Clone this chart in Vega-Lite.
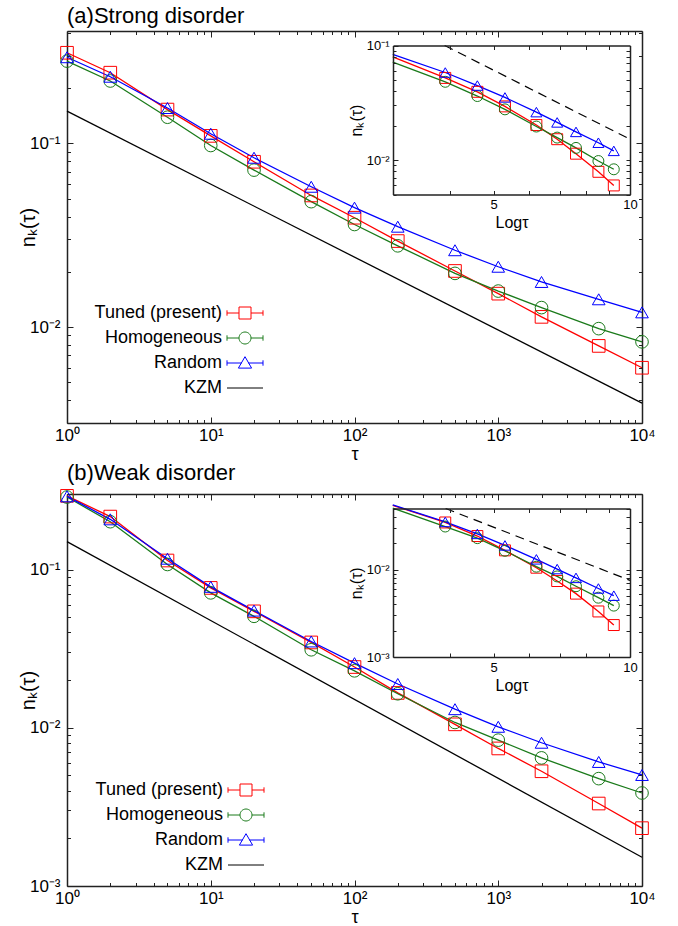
{
"$schema": "https://vega.github.io/schema/vega-lite/v6.json",
"background": "white",
"padding": {"left": 18, "top": 4, "right": 5, "bottom": 0},
"spacing": -2,
"datasets": {
"a": [
{"series":"Tuned (present)","tau":1,"lntau":0,"n":0.312},{"series":"Tuned (present)","tau":2,"lntau":0.693,"n":0.243},{"series":"Tuned (present)","tau":5,"lntau":1.609,"n":0.153},{"series":"Tuned (present)","tau":10,"lntau":2.303,"n":0.110},{"series":"Tuned (present)","tau":20,"lntau":2.996,"n":0.0795},{"series":"Tuned (present)","tau":50,"lntau":3.912,"n":0.0521},{"series":"Tuned (present)","tau":100,"lntau":4.605,"n":0.0394},{"series":"Tuned (present)","tau":200,"lntau":5.298,"n":0.0294},{"series":"Tuned (present)","tau":500,"lntau":6.215,"n":0.0202},{"series":"Tuned (present)","tau":1000,"lntau":6.908,"n":0.0152},{"series":"Tuned (present)","tau":2000,"lntau":7.601,"n":0.01136},{"series":"Tuned (present)","tau":5000,"lntau":8.517,"n":0.00789},{"series":"Tuned (present)","tau":10000,"lntau":9.21,"n":0.0060},
{"series":"Homogeneous","tau":1,"lntau":0,"n":0.281},{"series":"Homogeneous","tau":2,"lntau":0.693,"n":0.219},{"series":"Homogeneous","tau":5,"lntau":1.609,"n":0.139},{"series":"Homogeneous","tau":10,"lntau":2.303,"n":0.0975},{"series":"Homogeneous","tau":20,"lntau":2.996,"n":0.0716},{"series":"Homogeneous","tau":50,"lntau":3.912,"n":0.0482},{"series":"Homogeneous","tau":100,"lntau":4.605,"n":0.0362},{"series":"Homogeneous","tau":200,"lntau":5.298,"n":0.0277},{"series":"Homogeneous","tau":500,"lntau":6.215,"n":0.0196},{"series":"Homogeneous","tau":1000,"lntau":6.908,"n":0.0157},{"series":"Homogeneous","tau":2000,"lntau":7.601,"n":0.01276},{"series":"Homogeneous","tau":5000,"lntau":8.517,"n":0.0098},{"series":"Homogeneous","tau":10000,"lntau":9.21,"n":0.0083},
{"series":"Random","tau":1,"lntau":0,"n":0.295},{"series":"Random","tau":2,"lntau":0.693,"n":0.231},{"series":"Random","tau":5,"lntau":1.609,"n":0.156},{"series":"Random","tau":10,"lntau":2.303,"n":0.113},{"series":"Random","tau":20,"lntau":2.996,"n":0.0836},{"series":"Random","tau":50,"lntau":3.912,"n":0.0581},{"series":"Random","tau":100,"lntau":4.605,"n":0.0447},{"series":"Random","tau":200,"lntau":5.298,"n":0.0352},{"series":"Random","tau":500,"lntau":6.215,"n":0.0262},{"series":"Random","tau":1000,"lntau":6.908,"n":0.0213},{"series":"Random","tau":2000,"lntau":7.601,"n":0.0176},{"series":"Random","tau":5000,"lntau":8.517,"n":0.01416},{"series":"Random","tau":10000,"lntau":9.21,"n":0.01202}
],
"b": [
{"series":"Tuned (present)","tau":1,"lntau":0,"n":0.292},{"series":"Tuned (present)","tau":2,"lntau":0.693,"n":0.216},{"series":"Tuned (present)","tau":5,"lntau":1.609,"n":0.114},{"series":"Tuned (present)","tau":10,"lntau":2.303,"n":0.0765},{"series":"Tuned (present)","tau":20,"lntau":2.996,"n":0.0544},{"series":"Tuned (present)","tau":50,"lntau":3.912,"n":0.0346},{"series":"Tuned (present)","tau":100,"lntau":4.605,"n":0.0242},{"series":"Tuned (present)","tau":200,"lntau":5.298,"n":0.0166},{"series":"Tuned (present)","tau":500,"lntau":6.215,"n":0.01051},{"series":"Tuned (present)","tau":1000,"lntau":6.908,"n":0.0074},{"series":"Tuned (present)","tau":2000,"lntau":7.601,"n":0.00531},{"series":"Tuned (present)","tau":5000,"lntau":8.517,"n":0.00332},{"series":"Tuned (present)","tau":10000,"lntau":9.21,"n":0.00232},
{"series":"Homogeneous","tau":1,"lntau":0,"n":0.287},{"series":"Homogeneous","tau":2,"lntau":0.693,"n":0.2005},{"series":"Homogeneous","tau":5,"lntau":1.609,"n":0.1076},{"series":"Homogeneous","tau":10,"lntau":2.303,"n":0.0712},{"series":"Homogeneous","tau":20,"lntau":2.996,"n":0.0506},{"series":"Homogeneous","tau":50,"lntau":3.912,"n":0.0311},{"series":"Homogeneous","tau":100,"lntau":4.605,"n":0.0229},{"series":"Homogeneous","tau":200,"lntau":5.298,"n":0.0164},{"series":"Homogeneous","tau":500,"lntau":6.215,"n":0.0108},{"series":"Homogeneous","tau":1000,"lntau":6.908,"n":0.00835},{"series":"Homogeneous","tau":2000,"lntau":7.601,"n":0.00645},{"series":"Homogeneous","tau":5000,"lntau":8.517,"n":0.00477},{"series":"Homogeneous","tau":10000,"lntau":9.21,"n":0.00387},
{"series":"Random","tau":1,"lntau":0,"n":0.290},{"series":"Random","tau":2,"lntau":0.693,"n":0.2075},{"series":"Random","tau":5,"lntau":1.609,"n":0.117},{"series":"Random","tau":10,"lntau":2.303,"n":0.0777},{"series":"Random","tau":20,"lntau":2.996,"n":0.055},{"series":"Random","tau":50,"lntau":3.912,"n":0.0351},{"series":"Random","tau":100,"lntau":4.605,"n":0.0256},{"series":"Random","tau":200,"lntau":5.298,"n":0.0189},{"series":"Random","tau":500,"lntau":6.215,"n":0.0131},{"series":"Random","tau":1000,"lntau":6.908,"n":0.01014},{"series":"Random","tau":2000,"lntau":7.601,"n":0.00804},{"series":"Random","tau":5000,"lntau":8.517,"n":0.00608},{"series":"Random","tau":10000,"lntau":9.21,"n":0.00503}
],
"kzm_a": [{"tau":1,"n":0.15},{"tau":10000,"n":0.00385}],
"kzm_b": [{"tau":1,"n":0.15},{"tau":10000,"n":0.00152}],
"dash_a": [{"x":3.9,"n":0.1},{"x":10,"n":0.0152}],
"dash_b": [{"x":3.92,"n":0.05},{"x":10,"n":0.00753}]
},
"vconcat": [
{
"title": {"text": "(a)Strong disorder", "anchor": "start", "frame": "group", "fontSize": 22, "offset": 3},
"width": 575, "height": 392,
"resolve": {"scale": {"x": "independent", "y": "independent", "color": "independent", "shape": "independent"}, "axis": {"x": "independent", "y": "independent"}},
"layer": [
{"data": {"name": "kzm_a"}, "mark": {"type": "line", "color": "black", "strokeWidth": 1.3},
 "encoding": {
  "x": {"field": "tau", "type": "quantitative", "scale": {"type": "log", "domain": [1, 10000], "nice": false},
        "axis": {"orient": "bottom", "values": [1, 10, 100, 1000, 10000], "labelExpr": "'10' + ['⁰','¹','²','³','⁴'][round(log(datum.value)/LN10)]", "tickSize": -6, "labelPadding": 10, "labelFontSize": 17, "domainWidth": 1.5, "title": "τ", "titleFontSize": 18, "titlePadding": 2}},
  "y": {"field": "n", "type": "quantitative", "scale": {"type": "log", "domain": [0.003, 0.41], "nice": false},
        "axis": {"orient": "left", "values": [0.01, 0.1], "labelExpr": "'10' + ['⁻³','⁻²','⁻¹'][round(log(datum.value)/LN10)+3]", "tickSize": -6, "labelPadding": 13, "labelFontSize": 17, "domainWidth": 1.5, "title": "nₖ(τ)", "titleFontSize": 20, "titlePadding": -9}}
 }},
{"data": {"name": "a"}, "mark": {"type": "line", "strokeWidth": 1.3},
 "encoding": {
  "x": {"field": "tau", "type": "quantitative", "scale": {"type": "log", "domain": [1, 10000], "nice": false},
        "axis": {"orient": "bottom", "values": [2,3,4,5,6,7,8,9,20,30,40,50,60,70,80,90,200,300,400,500,600,700,800,900,2000,3000,4000,5000,6000,7000,8000,9000], "tickSize": -3.5, "labels": false, "domain": false, "title": null}},
  "y": {"field": "n", "type": "quantitative", "scale": {"type": "log", "domain": [0.003, 0.41], "nice": false},
        "axis": {"orient": "left", "values": [0.003,0.004,0.005,0.006,0.007,0.008,0.009,0.02,0.03,0.04,0.05,0.06,0.07,0.08,0.09,0.2,0.3,0.4], "tickSize": -3.5, "labels": false, "domain": false, "title": null}},
  "color": {"field": "series", "type": "nominal", "scale": {"domain": ["Tuned (present)", "Homogeneous", "Random"], "range": ["#ff0000", "#1a7a1a", "#0000ff"]}, "legend": null}
 }},
{"data": {"name": "a"}, "mark": {"type": "point", "filled": false, "size": 160, "strokeWidth": 1, "opacity": 1},
 "encoding": {
  "x": {"field": "tau", "type": "quantitative", "scale": {"type": "log", "domain": [1, 10000], "nice": false},
        "axis": {"orient": "top", "values": [1, 10, 100, 1000, 10000], "tickSize": -6, "labels": false, "domainWidth": 1.5, "title": null}},
  "y": {"field": "n", "type": "quantitative", "scale": {"type": "log", "domain": [0.003, 0.41], "nice": false},
        "axis": {"orient": "right", "values": [0.01, 0.1], "tickSize": -6, "labels": false, "domainWidth": 1.5, "title": null}},
  "color": {"field": "series", "type": "nominal", "scale": {"domain": ["Tuned (present)", "Homogeneous", "Random"], "range": ["#ff0000", "#1a7a1a", "#0000ff"]}, "legend": null},
  "shape": {"field": "series", "type": "nominal", "scale": {"domain": ["Tuned (present)", "Homogeneous", "Random"], "range": ["square", "circle", "triangle-up"]}, "legend": null}
 }},
{"data": {"name": "a"}, "mark": {"type": "point", "filled": false, "opacity": 0},
 "encoding": {
  "x": {"field": "tau", "type": "quantitative", "scale": {"type": "log", "domain": [1, 10000], "nice": false},
        "axis": {"orient": "top", "values": [2,3,4,5,6,7,8,9,20,30,40,50,60,70,80,90,200,300,400,500,600,700,800,900,2000,3000,4000,5000,6000,7000,8000,9000], "tickSize": -3.5, "labels": false, "domain": false, "title": null}},
  "y": {"field": "n", "type": "quantitative", "scale": {"type": "log", "domain": [0.003, 0.41], "nice": false},
        "axis": {"orient": "right", "values": [0.003,0.004,0.005,0.006,0.007,0.008,0.009,0.02,0.03,0.04,0.05,0.06,0.07,0.08,0.09,0.2,0.3,0.4], "tickSize": -3.5, "labels": false, "domain": false, "title": null}},
  "color": {"field": "series", "type": "nominal", "scale": {"domain": ["Tuned (present)", "Homogeneous", "Random", "KZM"], "range": ["#ff0000", "#1a7a1a", "#0000ff", "#000000"]},
            "legend": {"orient": "none", "legendX": 169, "legendY": 273, "title": null, "labelFontSize": 18, "labelAlign": "right", "labelOffset": -32, "symbolSize": 144, "symbolStrokeWidth": 1, "symbolOpacity": 1, "rowPadding": 7, "labelLimit": 300, "labelColor": "black"}},
  "shape": {"field": "series", "type": "nominal", "scale": {"domain": ["Tuned (present)", "Homogeneous", "Random", "KZM"], "range": ["M-1,-1H1V1H-1Z M-3,0H-1 M1,0H3 M-3,-0.45V0.45 M3,-0.45V0.45", "M-1,0A1,1,0,1,0,1,0A1,1,0,1,0,-1,0Z M-3,0H-1 M1,0H3 M-3,-0.45V0.45 M3,-0.45V0.45", "M0,-1.05L1.1,0.85H-1.1Z M-3,0H-0.55 M0.55,0H3 M-3,-0.45V0.45 M3,-0.45V0.45", "M-3,0H3"]},
            "legend": {"orient": "none", "legendX": 169, "legendY": 273, "title": null, "labelFontSize": 18, "labelAlign": "right", "labelOffset": -32, "symbolSize": 144, "symbolStrokeWidth": 1, "symbolOpacity": 1, "rowPadding": 7, "labelLimit": 300, "labelColor": "black"}}
 }},
{"data": {"name": "dash_a"}, "mark": {"type": "line", "color": "black", "strokeWidth": 1.2, "strokeDash": [9, 6]},
 "encoding": {
  "x": {"field": "x", "type": "quantitative", "scale": {"type": "log", "domain": [3, 10], "range": [326, 563], "nice": false},
        "axis": {"orient": "bottom", "offset": -228.5, "values": [4,5,6,7,8,9,10], "labelExpr": "datum.value == 5 || datum.value == 10 ? format(datum.value, 'd') : ''", "tickSize": -4, "labelPadding": 8, "labelFontSize": 13, "domainWidth": 1.5, "title": "Logτ", "titleFontSize": 16, "titlePadding": 3, "zindex": 1}},
  "y": {"field": "n", "type": "quantitative", "scale": {"type": "log", "domain": [0.005, 0.1], "range": [163.5, 14.5], "nice": false},
        "axis": {"orient": "left", "offset": -326, "values": [0.01, 0.1], "labelExpr": "'10' + ['⁻³','⁻²','⁻¹'][round(log(datum.value)/LN10)+3]", "tickSize": -5, "labelPadding": 9, "labelFontSize": 13, "domainWidth": 1.5, "title": "nₖ(τ)", "titleFontSize": 16, "titlePadding": 2, "zindex": 1}}
 }},
{"data": {"name": "a"}, "transform": [{"filter": "datum.tau >= 20"}], "mark": {"type": "line", "strokeWidth": 1.3, "clip": true},
 "encoding": {
  "x": {"field": "lntau", "type": "quantitative", "scale": {"type": "log", "domain": [3, 10], "range": [326, 563], "nice": false},
        "axis": {"orient": "top", "offset": -14.5, "values": [4,5,6,7,8,9], "tickSize": -4, "labels": false, "domainWidth": 1.5, "title": null, "zindex": 1}},
  "y": {"field": "n", "type": "quantitative", "scale": {"type": "log", "domain": [0.005, 0.1], "range": [163.5, 14.5], "nice": false},
        "axis": {"orient": "right", "offset": -12, "values": [0.005,0.006,0.007,0.008,0.009,0.01,0.02,0.03,0.04,0.05,0.06,0.07,0.08,0.09], "tickSize": -4, "labels": false, "domainWidth": 1.5, "title": null, "zindex": 1}},
  "color": {"field": "series", "type": "nominal", "scale": {"domain": ["Tuned (present)", "Homogeneous", "Random"], "range": ["#ff0000", "#1a7a1a", "#0000ff"]}, "legend": null}
 }},
{"data": {"name": "a"}, "transform": [{"filter": "datum.tau >= 50"}], "mark": {"type": "point", "filled": false, "size": 120, "strokeWidth": 1, "opacity": 1},
 "encoding": {
  "x": {"field": "lntau", "type": "quantitative", "scale": {"type": "log", "domain": [3, 10], "range": [326, 563], "nice": false}, "axis": null},
  "y": {"field": "n", "type": "quantitative", "scale": {"type": "log", "domain": [0.005, 0.1], "range": [163.5, 14.5], "nice": false},
        "axis": {"orient": "left", "offset": -326, "values": [0.005,0.006,0.007,0.008,0.009,0.02,0.03,0.04,0.05,0.06,0.07,0.08,0.09], "tickSize": -3, "labels": false, "domain": false, "title": null, "zindex": 1}},
  "color": {"field": "series", "type": "nominal", "scale": {"domain": ["Tuned (present)", "Homogeneous", "Random"], "range": ["#ff0000", "#1a7a1a", "#0000ff"]}, "legend": null},
  "shape": {"field": "series", "type": "nominal", "scale": {"domain": ["Tuned (present)", "Homogeneous", "Random"], "range": ["square", "circle", "triangle-up"]}, "legend": null}
 }}
]
},
{
"title": {"text": "(b)Weak disorder", "anchor": "start", "frame": "group", "fontSize": 22, "offset": 3},
"width": 575, "height": 392,
"resolve": {"scale": {"x": "independent", "y": "independent", "color": "independent", "shape": "independent"}, "axis": {"x": "independent", "y": "independent"}},
"layer": [
{"data": {"name": "kzm_b"}, "mark": {"type": "line", "color": "black", "strokeWidth": 1.3},
 "encoding": {
  "x": {"field": "tau", "type": "quantitative", "scale": {"type": "log", "domain": [1, 10000], "nice": false},
        "axis": {"orient": "bottom", "values": [1, 10, 100, 1000, 10000], "labelExpr": "'10' + ['⁰','¹','²','³','⁴'][round(log(datum.value)/LN10)]", "tickSize": -6, "labelPadding": 10, "labelFontSize": 17, "domainWidth": 1.5, "title": "τ", "titleFontSize": 18, "titlePadding": 2}},
  "y": {"field": "n", "type": "quantitative", "scale": {"type": "log", "domain": [0.001, 0.3], "nice": false},
        "axis": {"orient": "left", "values": [0.001, 0.01, 0.1], "labelExpr": "'10' + ['⁻³','⁻²','⁻¹'][round(log(datum.value)/LN10)+3]", "tickSize": -6, "labelPadding": 13, "labelFontSize": 17, "domainWidth": 1.5, "title": "nₖ(τ)", "titleFontSize": 20, "titlePadding": -9}}
 }},
{"data": {"name": "b"}, "mark": {"type": "line", "strokeWidth": 1.3},
 "encoding": {
  "x": {"field": "tau", "type": "quantitative", "scale": {"type": "log", "domain": [1, 10000], "nice": false},
        "axis": {"orient": "bottom", "values": [2,3,4,5,6,7,8,9,20,30,40,50,60,70,80,90,200,300,400,500,600,700,800,900,2000,3000,4000,5000,6000,7000,8000,9000], "tickSize": -3.5, "labels": false, "domain": false, "title": null}},
  "y": {"field": "n", "type": "quantitative", "scale": {"type": "log", "domain": [0.001, 0.3], "nice": false},
        "axis": {"orient": "left", "values": [0.002,0.003,0.004,0.005,0.006,0.007,0.008,0.009,0.02,0.03,0.04,0.05,0.06,0.07,0.08,0.09,0.2,0.3], "tickSize": -3.5, "labels": false, "domain": false, "title": null}},
  "color": {"field": "series", "type": "nominal", "scale": {"domain": ["Tuned (present)", "Homogeneous", "Random"], "range": ["#ff0000", "#1a7a1a", "#0000ff"]}, "legend": null}
 }},
{"data": {"name": "b"}, "mark": {"type": "point", "filled": false, "size": 160, "strokeWidth": 1, "opacity": 1},
 "encoding": {
  "x": {"field": "tau", "type": "quantitative", "scale": {"type": "log", "domain": [1, 10000], "nice": false},
        "axis": {"orient": "top", "values": [1, 10, 100, 1000, 10000], "tickSize": -6, "labels": false, "domainWidth": 1.5, "title": null}},
  "y": {"field": "n", "type": "quantitative", "scale": {"type": "log", "domain": [0.001, 0.3], "nice": false},
        "axis": {"orient": "right", "values": [0.001, 0.01, 0.1], "tickSize": -6, "labels": false, "domainWidth": 1.5, "title": null}},
  "color": {"field": "series", "type": "nominal", "scale": {"domain": ["Tuned (present)", "Homogeneous", "Random"], "range": ["#ff0000", "#1a7a1a", "#0000ff"]}, "legend": null},
  "shape": {"field": "series", "type": "nominal", "scale": {"domain": ["Tuned (present)", "Homogeneous", "Random"], "range": ["square", "circle", "triangle-up"]}, "legend": null}
 }},
{"data": {"name": "b"}, "mark": {"type": "point", "filled": false, "opacity": 0},
 "encoding": {
  "x": {"field": "tau", "type": "quantitative", "scale": {"type": "log", "domain": [1, 10000], "nice": false},
        "axis": {"orient": "top", "values": [2,3,4,5,6,7,8,9,20,30,40,50,60,70,80,90,200,300,400,500,600,700,800,900,2000,3000,4000,5000,6000,7000,8000,9000], "tickSize": -3.5, "labels": false, "domain": false, "title": null}},
  "y": {"field": "n", "type": "quantitative", "scale": {"type": "log", "domain": [0.001, 0.3], "nice": false},
        "axis": {"orient": "right", "values": [0.002,0.003,0.004,0.005,0.006,0.007,0.008,0.009,0.02,0.03,0.04,0.05,0.06,0.07,0.08,0.09,0.2,0.3], "tickSize": -3.5, "labels": false, "domain": false, "title": null}},
  "color": {"field": "series", "type": "nominal", "scale": {"domain": ["Tuned (present)", "Homogeneous", "Random", "KZM"], "range": ["#ff0000", "#1a7a1a", "#0000ff", "#000000"]},
            "legend": {"orient": "none", "legendX": 170, "legendY": 287, "title": null, "labelFontSize": 18, "labelAlign": "right", "labelOffset": -32, "symbolSize": 144, "symbolStrokeWidth": 1, "symbolOpacity": 1, "rowPadding": 7, "labelLimit": 300, "labelColor": "black"}},
  "shape": {"field": "series", "type": "nominal", "scale": {"domain": ["Tuned (present)", "Homogeneous", "Random", "KZM"], "range": ["M-1,-1H1V1H-1Z M-3,0H-1 M1,0H3 M-3,-0.45V0.45 M3,-0.45V0.45", "M-1,0A1,1,0,1,0,1,0A1,1,0,1,0,-1,0Z M-3,0H-1 M1,0H3 M-3,-0.45V0.45 M3,-0.45V0.45", "M0,-1.05L1.1,0.85H-1.1Z M-3,0H-0.55 M0.55,0H3 M-3,-0.45V0.45 M3,-0.45V0.45", "M-3,0H3"]},
            "legend": {"orient": "none", "legendX": 170, "legendY": 287, "title": null, "labelFontSize": 18, "labelAlign": "right", "labelOffset": -32, "symbolSize": 144, "symbolStrokeWidth": 1, "symbolOpacity": 1, "rowPadding": 7, "labelLimit": 300, "labelColor": "black"}}
 }},
{"data": {"name": "dash_b"}, "mark": {"type": "line", "color": "black", "strokeWidth": 1.2, "strokeDash": [9, 6]},
 "encoding": {
  "x": {"field": "x", "type": "quantitative", "scale": {"type": "log", "domain": [3, 10], "range": [326, 563], "nice": false},
        "axis": {"orient": "bottom", "offset": -229, "values": [4,5,6,7,8,9,10], "labelExpr": "datum.value == 5 || datum.value == 10 ? format(datum.value, 'd') : ''", "tickSize": -4, "labelPadding": 8, "labelFontSize": 13, "domainWidth": 1.5, "title": "Logτ", "titleFontSize": 16, "titlePadding": 3, "zindex": 1}},
  "y": {"field": "n", "type": "quantitative", "scale": {"type": "log", "domain": [0.001, 0.05], "range": [163, 14.5], "nice": false},
        "axis": {"orient": "left", "offset": -326, "values": [0.001, 0.01], "labelExpr": "'10' + ['⁻³','⁻²','⁻¹'][round(log(datum.value)/LN10)+3]", "tickSize": -5, "labelPadding": 9, "labelFontSize": 13, "domainWidth": 1.5, "title": "nₖ(τ)", "titleFontSize": 16, "titlePadding": 2, "zindex": 1}}
 }},
{"data": {"name": "b"}, "transform": [{"filter": "datum.tau >= 20"}], "mark": {"type": "line", "strokeWidth": 1.3, "clip": true},
 "encoding": {
  "x": {"field": "lntau", "type": "quantitative", "scale": {"type": "log", "domain": [3, 10], "range": [326, 563], "nice": false},
        "axis": {"orient": "top", "offset": -14.5, "values": [4,5,6,7,8,9], "tickSize": -4, "labels": false, "domainWidth": 1.5, "title": null, "zindex": 1}},
  "y": {"field": "n", "type": "quantitative", "scale": {"type": "log", "domain": [0.001, 0.05], "range": [163, 14.5], "nice": false},
        "axis": {"orient": "right", "offset": -12, "values": [0.001,0.002,0.003,0.004,0.005,0.006,0.007,0.008,0.009,0.01,0.02,0.03,0.04,0.05], "tickSize": -4, "labels": false, "domainWidth": 1.5, "title": null, "zindex": 1}},
  "color": {"field": "series", "type": "nominal", "scale": {"domain": ["Tuned (present)", "Homogeneous", "Random"], "range": ["#ff0000", "#1a7a1a", "#0000ff"]}, "legend": null}
 }},
{"data": {"name": "b"}, "transform": [{"filter": "datum.tau >= 50"}], "mark": {"type": "point", "filled": false, "size": 120, "strokeWidth": 1, "opacity": 1},
 "encoding": {
  "x": {"field": "lntau", "type": "quantitative", "scale": {"type": "log", "domain": [3, 10], "range": [326, 563], "nice": false}, "axis": null},
  "y": {"field": "n", "type": "quantitative", "scale": {"type": "log", "domain": [0.001, 0.05], "range": [163, 14.5], "nice": false},
        "axis": {"orient": "left", "offset": -326, "values": [0.002,0.003,0.004,0.005,0.006,0.007,0.008,0.009,0.02,0.03,0.04,0.05], "tickSize": -3, "labels": false, "domain": false, "title": null, "zindex": 1}},
  "color": {"field": "series", "type": "nominal", "scale": {"domain": ["Tuned (present)", "Homogeneous", "Random"], "range": ["#ff0000", "#1a7a1a", "#0000ff"]}, "legend": null},
  "shape": {"field": "series", "type": "nominal", "scale": {"domain": ["Tuned (present)", "Homogeneous", "Random"], "range": ["square", "circle", "triangle-up"]}, "legend": null}
 }}
]
}
],
"resolve": {"scale": {"color": "independent", "shape": "independent"}},
"config": {
 "font": "Liberation Sans",
 "view": {"stroke": null},
 "axis": {"grid": false, "labelColor": "black", "titleColor": "black", "tickColor": "#222", "domainColor": "#222", "labelFlush": false, "titleFontWeight": "normal", "labelOverlap": false, "tickWidth": 1},
 "title": {"fontWeight": "normal", "color": "black"}
}
}
